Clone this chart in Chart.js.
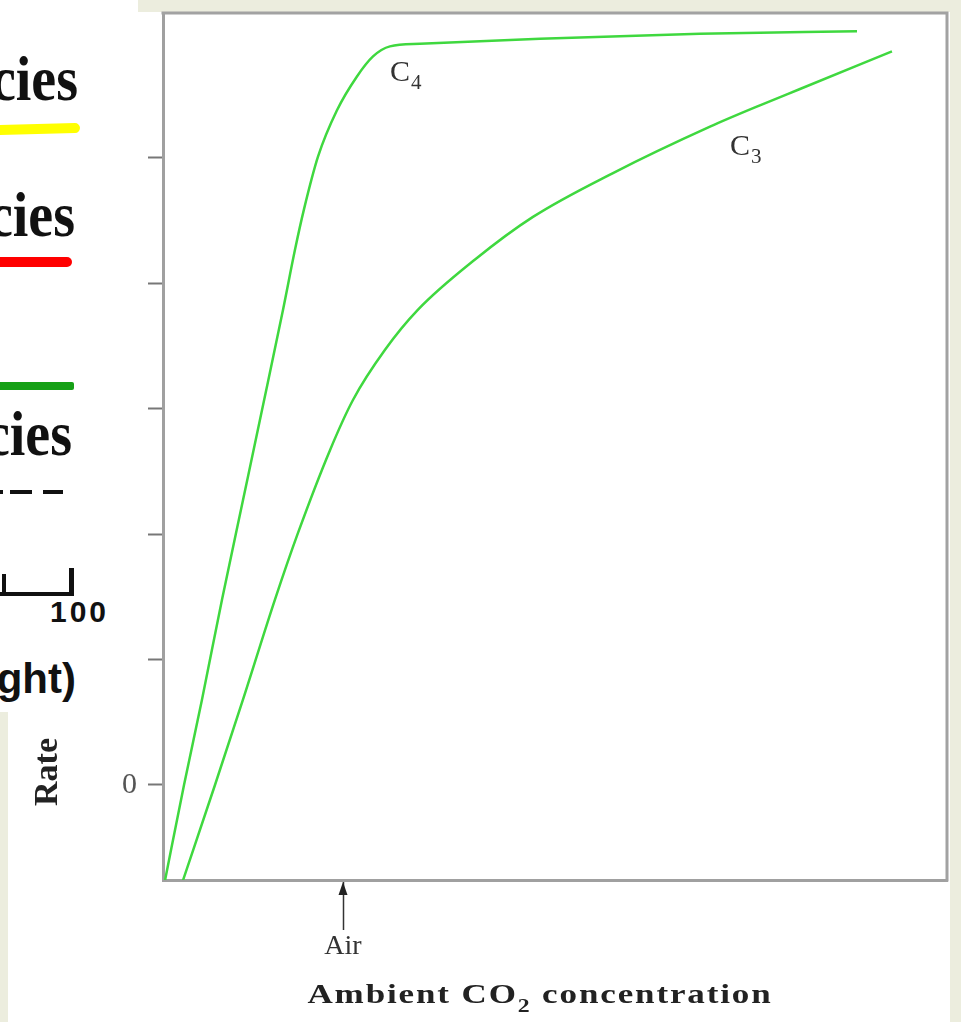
<!DOCTYPE html>
<html>
<head>
<meta charset="utf-8">
<script src="https://cdn.jsdelivr.net/npm/chart.js@4.4.0/dist/chart.umd.min.js"></script>
<style>
	html, body { margin: 0; padding: 0; }
	body { width: 961px; height: 1022px; background: #ecedde; position: relative; overflow: hidden; }
	#plot-panel { position: absolute; left: 8px; top: 12px; width: 942px; height: 1010px; background: #fff; }
	#key-panel { position: absolute; left: 0; top: 0; width: 138px; height: 712px; background: #fff; overflow: hidden; }
	.word { position: absolute; white-space: nowrap; font: bold 56px 'Liberation Serif', serif; line-height: 56px; color: #111;
		transform: scaleY(1.14); transform-origin: 0 47px; }
	.bar { position: absolute; }
	.sans { position: absolute; white-space: nowrap; font-family: 'Liberation Sans', sans-serif; font-weight: bold; color: #111; }
	#chart-wrap { position: absolute; left: 0; top: 0; width: 961px; height: 1022px; }
</style>
</head>
<body>
<div id="plot-panel"></div>
<div id="key-panel">
	<div class="word" style="top:53px; right:60px">cies</div>
	<div class="bar" style="left:-6px; top:124px; width:86px; height:10px; background:#ffff00; border-radius:5px; transform:rotate(-1.5deg)"></div>
	<div class="word" style="top:189px; right:63px">cies</div>
	<div class="bar" style="left:-6px; top:257px; width:78px; height:10px; background:#ff0000; border-radius:5px"></div>
	<div class="bar" style="left:-6px; top:382px; width:80px; height:8px; background:#16a016; border-radius:2px"></div>
	<div class="word" style="top:408px; right:66px">cies</div>
	<div class="bar" style="left:0; top:490px; width:3px; height:4px; background:#111"></div>
	<div class="bar" style="left:10px; top:490px; width:22px; height:4px; background:#111"></div>
	<div class="bar" style="left:43px; top:490px; width:20px; height:4px; background:#111"></div>
	<div class="bar" style="left:0; top:592px; width:74px; height:4px; background:#111"></div>
	<div class="bar" style="left:2px; top:574px; width:4px; height:22px; background:#111"></div>
	<div class="bar" style="left:69px; top:568px; width:5px; height:28px; background:#111"></div>
	<div class="sans" style="left:50px; top:597px; font-size:30px; line-height:30px; letter-spacing:3px">100</div>
	<div class="sans" style="right:62px; top:657.5px; font-size:42px; line-height:42px">ght)</div>
</div>
<div id="chart-wrap"><canvas id="co2-chart" width="961" height="1022"></canvas></div>

<script>
// C4 curve: ambient CO2 (arbitrary 0-100) vs rate (tick units)
const c4Conc = [0.26, 2.68, 4.97, 7.53, 10.20, 12.63, 15.31, 16.84, 17.98, 19.77, 22.19, 24.74, 26.79, 28.95, 32.78, 48.09, 68.49, 88.52];
const c4Rate = [-0.76, 0, 0.68, 1.48, 2.27, 2.99, 3.79, 4.27, 4.59, 5.01, 5.38, 5.65, 5.81, 5.89, 5.91, 5.95, 5.99, 6.01];

// C3 curve
const c3Conc = [2.55, 6.63, 10.20, 14.29, 17.22, 21.30, 24.23, 28.32, 32.53, 39.80, 47.19, 57.40, 69.77, 76.53, 81.25, 92.98];
const c3Rate = [-0.76, 0, 0.68, 1.48, 2.01, 2.67, 3.07, 3.47, 3.79, 4.19, 4.53, 4.88, 5.25, 5.43, 5.55, 5.85];

const yTickValues = [0, 1, 2, 3, 4, 5];
const yTickLabels = ['0', '', '', '', '', ''];
const airConc = 22.96;
const xLabel = 'Air';

const curveLabels = [
	{ text: 'C', sub: '4', x: 28.95, y: 5.61 },
	{ text: 'C', sub: '3', x: 72.32, y: 5.02 }
];

const lineColor = '#3fd83f';
const serif = "'Liberation Serif', 'Times New Roman', serif";

function toPoints(xs, ys) {
	return xs.map((v, i) => ({ x: v, y: ys[i] }));
}

const figureDecor = {
	id: 'figureDecor',
	afterDraw: (chart) => {
		const { ctx, chartArea: { top, bottom, left, right }, scales: { x, y } } = chart;
		ctx.save();

		// top + right edges of the box
		ctx.strokeStyle = '#a2a2a2';
		ctx.lineWidth = 3;
		ctx.beginPath();
		ctx.moveTo(left - 1.5, top);
		ctx.lineTo(right, top);
		ctx.lineTo(right, bottom + 1.5);
		ctx.stroke();

		// arrow head on the Air tick
		const ax = x.getPixelForValue(airConc);
		ctx.fillStyle = '#222';
		ctx.beginPath();
		ctx.moveTo(ax, bottom + 2);
		ctx.lineTo(ax - 4.5, bottom + 15);
		ctx.lineTo(ax + 4.5, bottom + 15);
		ctx.closePath();
		ctx.fill();

		// C3 / C4 labels
		ctx.fillStyle = '#333';
		ctx.textBaseline = 'alphabetic';
		ctx.textAlign = 'left';
		curveLabels.forEach(l => {
			const px = x.getPixelForValue(l.x);
			const py = y.getPixelForValue(l.y);
			ctx.font = '30px ' + serif;
			ctx.fillText(l.text, px, py);
			const w = ctx.measureText(l.text).width;
			ctx.font = '21px ' + serif;
			ctx.fillText(l.sub, px + w + 1, py + 8);
		});

		// y title
		ctx.save();
		ctx.translate(48, 772);
		ctx.rotate(-Math.PI / 2);
		ctx.textAlign = 'center';
		ctx.textBaseline = 'middle';
		ctx.font = 'bold 34px ' + serif;
		ctx.fillStyle = '#222';
		ctx.fillText('Rate', 0, 0);
		ctx.restore();

		// x title with subscript, drawn a bit wide like the original face
		ctx.save();
		ctx.fillStyle = '#222';
		ctx.letterSpacing = '1.5px';
		const sx = 1.25;
		const partA = 'Ambient CO', partSub = '2', partB = ' concentration';
		ctx.font = 'bold 28px ' + serif;
		const wA = ctx.measureText(partA).width;
		const wB = ctx.measureText(partB).width;
		ctx.font = 'bold 19px ' + serif;
		const wS = ctx.measureText(partSub).width;
		const total = (wA + wS + wB) * sx;
		ctx.translate(540 - total / 2, 1003);
		ctx.scale(sx, 1);
		let tx = 0;
		ctx.font = 'bold 28px ' + serif;
		ctx.fillText(partA, tx, 0);
		tx += wA;
		ctx.font = 'bold 19px ' + serif;
		ctx.fillText(partSub, tx, 9);
		tx += wS;
		ctx.font = 'bold 28px ' + serif;
		ctx.fillText(partB, tx, 0);
		ctx.restore();

		ctx.restore();
	}
};

const ctx = document.getElementById('co2-chart');
new Chart(ctx, {
	type: 'line',
	data: {
		datasets: [{
			label: 'C4',
			data: toPoints(c4Conc, c4Rate),
			borderColor: lineColor,
			borderWidth: 2.5,
			pointRadius: 0,
			cubicInterpolationMode: 'monotone',
			fill: false
		}, {
			label: 'C3',
			data: toPoints(c3Conc, c3Rate),
			borderColor: lineColor,
			borderWidth: 2.5,
			pointRadius: 0,
			cubicInterpolationMode: 'monotone',
			fill: false
		}]
	},
	options: {
		responsive: false,
		animation: false,
		devicePixelRatio: 1,
		layout: {
			padding: { left: 0, top: 13, right: 14, bottom: 0 }
		},
		plugins: {
			legend: { display: false },
			tooltip: { enabled: false }
		},
		scales: {
			x: {
				type: 'linear',
				min: 0,
				max: 100,
				afterFit: (scale) => {
					scale.height = 142;
					scale.paddingLeft = 0;
					scale.paddingRight = 0;
				},
				afterBuildTicks: (scale) => { scale.ticks = [{ value: airConc }]; },
				grid: {
					drawOnChartArea: false,
					tickLength: 50,
					tickColor: '#333',
					tickWidth: 1.5
				},
				border: { display: true, color: '#a0a0a0', width: 3 },
				ticks: {
					padding: 0,
					maxRotation: 0,
					color: '#333',
					font: { family: serif, size: 28 },
					callback: () => xLabel
				}
			},
			y: {
				type: 'linear',
				min: -0.7576,
				max: 6.156,
				afterFit: (scale) => {
					scale.width = 163;
					scale.paddingTop = 0;
					scale.paddingBottom = 0;
				},
				afterBuildTicks: (scale) => { scale.ticks = yTickValues.map(v => ({ value: v })); },
				grid: {
					drawOnChartArea: false,
					tickLength: 15,
					tickColor: '#777',
					tickWidth: 2
				},
				border: { display: true, color: '#a0a0a0', width: 3 },
				ticks: {
					padding: 11,
					color: '#555',
					font: { family: serif, size: 30 },
					callback: (v) => yTickLabels[yTickValues.indexOf(v)] ?? ''
				}
			}
		}
	},
	plugins: [figureDecor]
});
</script>
</body>
</html>
